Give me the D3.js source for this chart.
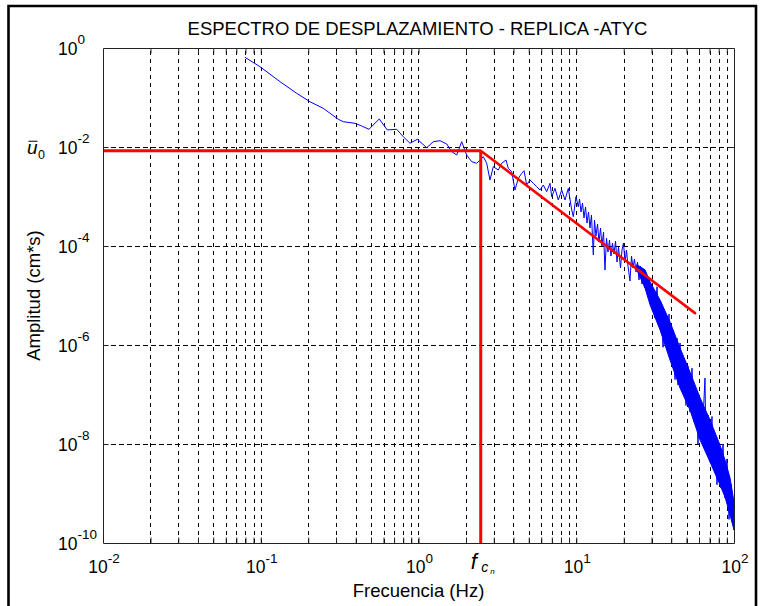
<!DOCTYPE html>
<html>
<head>
<meta charset="utf-8">
<script src="https://cdn.jsdelivr.net/npm/d3@7"></script>
<style>
  body { margin: 0; background: #fff; }
  svg { display: block; }
  text { font-family: "Liberation Sans", Arial, Helvetica, sans-serif; fill: #000; }
</style>
</head>
<body>
<svg id="chart" width="761" height="606"></svg>
<script>
// ---- chart text ----
const title = "ESPECTRO DE DESPLAZAMIENTO - REPLICA -ATYC";
const xLabel = "Frecuencia (Hz)";
const yLabel = "Amplitud (cm*s)";
const xTickExponents = [-2, -1, 0, 1, 2];
const yTickExponents = [-10, -8, -6, -4, -2, 0];

// ---- displacement spectrum (Hz, cm*s) ----
const freqHz = [
  0.0794, 0.0989, 0.1324, 0.169, 0.205, 0.249, 0.310, 0.334, 0.396, 0.436,
  0.485, 0.564, 0.634, 0.727, 0.801, 0.883, 0.983, 1.127, 1.241, 1.369,
  1.510, 1.624, 1.747, 1.879, 2.021, 2.173, 2.34,
  2.576, 2.706, 2.839, 2.980, 3.205, 3.368, 3.587, 3.709, 3.898, 4.090,
  4.293, 4.511, 4.665, 4.853, 5.092, 5.343, 5.615, 5.892, 6.183, 6.497,
  6.817, 6.989, 7.333, 7.696, 8.087, 8.485, 8.904, 9.359, 9.579, 9.963,
  10.30, 10.49, 10.72, 10.96, 11.20, 11.45, 11.70, 11.96, 12.22, 12.49,
  12.83, 13.05, 13.34, 13.64, 13.94, 14.25, 14.56, 14.89, 15.21, 15.55,
  15.89, 16.25, 16.60, 16.97, 17.35, 17.74, 18.13, 18.53, 19.08, 19.50,
  19.93, 20.37, 20.82, 21.28, 21.91, 22.40, 22.89, 23.40, 23.92, 24.45,
  24.99, 25.54, 26.11, 26.69, 27.28, 27.88, 28.50, 29.13, 29.78, 30.43,
  31.11,
  31.56, 32.5, 33.47, 34.45, 35.47, 36.52, 37.61, 38.73, 39.87, 41.05,
  42.27, 43.52, 44.16, 45.48, 46.82, 48.19, 49.62, 51.09, 52.60, 54.16,
  55.76, 57.42, 59.12, 60.87, 62.67, 65.48, 66.44, 68.41, 70.43, 72.52,
  73.59, 75.77, 78.01, 80.32, 82.70, 85.15, 87.66, 90.27, 92.95, 95.72,
  97.1, 98.6, 100
];
const amplitude = [
  0.649, 0.419, 0.209, 0.1216, 0.0822, 0.0605, 0.0363, 0.0324, 0.0301, 0.0266,
  0.0228, 0.0368, 0.0221, 0.0228, 0.0161, 0.0119, 0.0143, 0.00968, 0.0128, 0.0134,
  0.0115, 0.00804, 0.00689, 0.0128, 0.00689, 0.00505, 0.00469,
  6.37e-3, 4.69e-3, 2.15e-3, 4.00e-3, 3.43e-3, 4.69e-3, 5.46e-3, 3.71e-3, 3.17e-3, 1.35e-3,
  2.33e-3, 2.94e-3, 3.32e-3, 1.71e-3, 2.15e-3, 1.85e-3, 1.58e-3, 1.35e-3, 1.71e-3, 1.25e-3,
  1.85e-3, 9.9e-4, 1.46e-3, 8.5e-4, 1.35e-3, 8.5e-4, 1.46e-3, 5.33e-4, 3.91e-4, 9.9e-4,
  6.22e-4, 8.90e-4, 4.86e-4, 7.39e-4, 3.68e-4, 6.14e-4, 2.91e-4, 4.86e-4, 2.31e-4, 4.23e-4,
  6.58e-5, 3.35e-4, 1.59e-4, 2.78e-4, 1.20e-4, 2.31e-4, 1.00e-4, 1.92e-4, 3.27e-5, 1.45e-4,
  7.56e-5, 1.32e-4, 6.28e-5, 1.15e-4, 6.89e-5, 1.26e-4, 4.75e-5, 9.54e-5, 3.59e-5, 8.30e-5,
  1.15e-4, 4.75e-5, 8.30e-5, 3.94e-5, 1.96e-5, 6.28e-5, 3.59e-5, 5.46e-5, 2.98e-5, 4.75e-5,
  2.06e-5, 3.94e-5, 1.71e-5, 3.27e-5, 1.42e-5, 2.48e-5, 1.12e-5, 1.96e-5, 8.11e-6, 1.56e-5,
  4.64e-6,
  3.51e-6, 1.5e-5, 2.54e-6, 7.39e-6, 9.0e-7, 4.64e-6, 7.92e-7, 4.2e-6, 5.46e-7, 2.01e-6,
  2.0e-7, 1.38e-6, 1.56e-7, 1.1e-6, 1.23e-7, 5.46e-7, 6.0e-8, 3.77e-7, 4.43e-8, 3.4e-7,
  2.78e-8, 1.35e-7, 1.0e-8, 7.74e-8, 1.10e-8, 2.15e-7, 7.57e-9, 3.85e-8, 4.33e-9, 3.6e-8,
  3.77e-9, 1.45e-8, 1.5e-9, 1.0e-8, 1.29e-9, 1.0e-8, 8.11e-10, 5.0e-9, 3.0e-10, 1.56e-9,
  2.66e-10, 7.39e-10, 1.83e-10
];

// spread of the dense high-frequency part of the spectrum
const bandFreqHz = [24.2, 27.3, 29.4, 34.0, 39.3, 45.5, 52.6, 61.0, 70.5, 81.5, 87.7, 94.4, 100];
const bandUpper  = [4.2e-5, 3.3e-5, 1.87e-5, 8.1e-6, 2.92e-6, 8.7e-7, 2.85e-7, 8.5e-8, 3.05e-8, 9.5e-9, 4.75e-9, 2.06e-9, 6.73e-10];
const bandLower  = [3.3e-5, 1.4e-5, 6.4e-6, 2.01e-6, 4.97e-7, 1.35e-7, 4.86e-8, 1.20e-8, 4.33e-9, 1.49e-9, 8.5e-10, 3.68e-10, 1.83e-10];

// ---- source model: plateau u0, corner frequency fc, high-frequency decay ----
const modelFreqHz = [0.01, 2.48, 56.6];
const modelAmp = [0.0084, 0.0084, 4.4e-6];
const cornerFreqHz = 2.48;
const plateauAmp = 0.0084;

// ---- layout ----
const svg = d3.select("#chart");
const plotLeft = 103, plotRight = 734, plotTop = 48, plotBottom = 543;

const x = d3.scaleLog().domain([1e-2, 1e2]).range([plotLeft, plotRight]);
const y = d3.scaleLog().domain([1e-10, 1]).range([plotBottom, plotTop]);

// outer figure frame
svg.append("path")
  .attr("d", `M8.5,606 V6 H756 V606`)
  .attr("fill", "none").attr("stroke", "#000").attr("stroke-width", 2.6);

// ---- grid ----
const xGrid = x.ticks().filter(v => v > 1e-2 * 1.0001 && v < 1e2 * 0.9999);
const yTicks = yTickExponents.map(e => Math.pow(10, e));
const yGrid = yTicks.filter(v => v > 1e-10 * 1.0001 && v < 0.9999);

const grid = svg.append("g").attr("stroke", "#000").attr("stroke-width", 1)
  .attr("stroke-dasharray", "4.5,3.5").attr("shape-rendering", "crispEdges");
grid.selectAll("line.v").data(xGrid).join("line").attr("class", "v")
  .attr("x1", d => Math.round(x(d)) + 0.5).attr("x2", d => Math.round(x(d)) + 0.5)
  .attr("y1", plotBottom).attr("y2", plotTop);
grid.selectAll("line.h").data(yGrid).join("line").attr("class", "h")
  .attr("x1", plotLeft).attr("x2", plotRight)
  .attr("y1", d => Math.round(y(d)) + 0.5).attr("y2", d => Math.round(y(d)) + 0.5);

// ---- spectrum ----
const plot = svg.append("g");
const band = d3.area()
  .x((d, i) => x(bandFreqHz[i]))
  .y0((d, i) => y(bandLower[i]))
  .y1((d, i) => y(bandUpper[i]));
plot.append("path").datum(bandFreqHz).attr("d", band)
  .attr("fill", "#0000ff").attr("stroke", "#0000ff").attr("stroke-width", 1);

const spectrum = d3.zip(freqHz, amplitude);
const line = d3.line().x(d => x(d[0])).y(d => y(d[1]));
plot.append("path").datum(spectrum).attr("d", line)
  .attr("fill", "none").attr("stroke", "#0000ff").attr("stroke-width", 1)
  .attr("stroke-linejoin", "miter");

// ---- source model lines ----
const model = d3.zip(modelFreqHz, modelAmp);
plot.append("path").datum(model.slice(0, 2)).attr("d", line)
  .attr("fill", "none").attr("stroke", "#ff0000").attr("stroke-width", 3);
plot.append("path").datum(model.slice(1)).attr("d", line)
  .attr("fill", "none").attr("stroke", "#ff0000").attr("stroke-width", 2.6)
  .attr("stroke-linecap", "round");
plot.append("path").datum([[cornerFreqHz, plateauAmp], [cornerFreqHz, 1e-10]]).attr("d", line)
  .attr("fill", "none").attr("stroke", "#ff0000").attr("stroke-width", 3);

// ---- axes box and ticks ----
const tickLen = 5.5;
const axisColor = "#222";
svg.append("g").attr("transform", `translate(0,${plotBottom})`)
  .call(d3.axisBottom(x).tickValues(xGrid).tickSizeInner(-tickLen).tickSizeOuter(0).tickFormat(""))
  .call(g => g.selectAll("line,path").attr("stroke", axisColor));
svg.append("g").attr("transform", `translate(0,${plotTop})`)
  .call(d3.axisTop(x).tickValues(xGrid).tickSizeInner(-tickLen).tickSizeOuter(0).tickFormat(""))
  .call(g => g.selectAll("line,path").attr("stroke", axisColor));
svg.append("g").attr("transform", `translate(${plotLeft},0)`)
  .call(d3.axisLeft(y).tickValues(yGrid).tickSizeInner(-tickLen).tickSizeOuter(0).tickFormat(""))
  .call(g => g.selectAll("line,path").attr("stroke", axisColor));
svg.append("g").attr("transform", `translate(${plotRight},0)`)
  .call(d3.axisRight(y).tickValues(yGrid).tickSizeInner(-tickLen).tickSizeOuter(0).tickFormat(""))
  .call(g => g.selectAll("line,path").attr("stroke", axisColor));
svg.selectAll(".domain").attr("stroke-width", 1);

// ---- tick labels (10 with superscript exponent) ----
const baseSize = 17.5, expSize = 13.5;
xTickExponents.forEach(e => {
  const t = svg.append("text")
    .attr("x", x(Math.pow(10, e)) + 1).attr("y", 572.5)
    .attr("text-anchor", "middle");
  t.append("tspan").attr("font-size", baseSize).text("10");
  t.append("tspan").attr("font-size", expSize).attr("dy", -10).text(e);
});
yTickExponents.forEach(e => {
  const ty = y(Math.pow(10, e));
  svg.append("text").attr("x", 77.5).attr("y", ty + 7)
    .attr("text-anchor", "end").attr("font-size", baseSize).text("10");
  svg.append("text").attr("x", 77.5).attr("y", ty - 4.5)
    .attr("text-anchor", "start").attr("font-size", expSize).text(e);
});

// ---- titles ----
svg.append("text").attr("x", (plotLeft + plotRight) / 2 - 1).attr("y", 34.5)
  .attr("text-anchor", "middle").attr("font-size", 18.5).text(title);
svg.append("text").attr("x", (plotLeft + plotRight) / 2).attr("y", 597)
  .attr("text-anchor", "middle").attr("font-size", 18.5).text(xLabel);
svg.append("text")
  .attr("transform", `translate(40,${(plotTop + plotBottom) / 2}) rotate(-90)`)
  .attr("text-anchor", "middle").attr("font-size", 18.5).text(yLabel);

// ---- symbols: plateau u0 and corner frequency f_cn ----
const serif = `"Liberation Serif", "Times New Roman", serif`;
const uY = y(plateauAmp);
svg.append("text").attr("x", 27).attr("y", uY + 3)
  .attr("font-family", serif).attr("font-style", "italic").attr("font-size", 19).text("u");
svg.append("line").attr("x1", 28.5).attr("x2", 37.5).attr("y1", uY - 9.5).attr("y2", uY - 9.5)
  .attr("stroke", "#000").attr("stroke-width", 1);
svg.append("text").attr("x", 38).attr("y", uY + 8.5).attr("font-size", 12.5).text("0");

const fx = x(cornerFreqHz);
svg.append("text").attr("x", fx - 10).attr("y", 569)
  .attr("font-family", serif).attr("font-style", "italic").attr("font-size", 22).text("f");
svg.append("text").attr("x", fx + 0.5).attr("y", 572)
  .attr("font-family", serif).attr("font-style", "italic").attr("font-size", 14).text("c");
svg.append("text").attr("x", fx + 9.5).attr("y", 573.5)
  .attr("font-family", serif).attr("font-style", "italic").attr("font-size", 8).text("n");
</script>
</body>
</html>
